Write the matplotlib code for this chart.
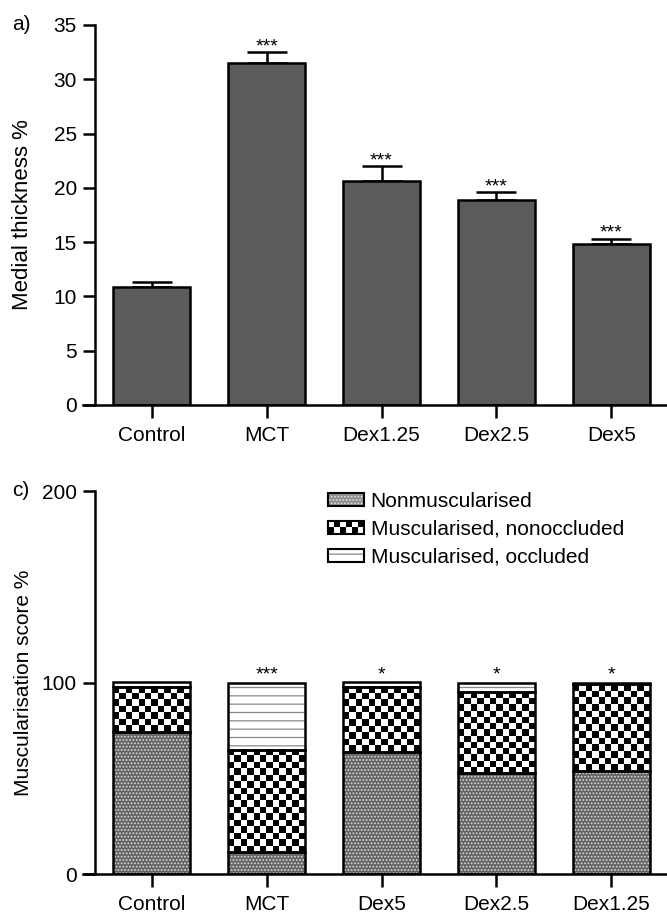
import numpy as np
import matplotlib
matplotlib.use('Agg')
import matplotlib.pyplot as plt
from matplotlib.patches import Patch, Rectangle
from matplotlib.legend_handler import HandlerBase

plt.rcParams['font.family'] = ['Liberation Sans', 'DejaVu Sans']
plt.rcParams['hatch.linewidth'] = 0.9

# panel a) medial thickness
groups_a = ['Control', 'MCT', 'Dex1.25', 'Dex2.5', 'Dex5']
thickness = [10.9, 31.5, 20.6, 18.9, 14.8]
thickness_err = [0.4, 1.0, 1.4, 0.7, 0.5]
stars_a = ['', '***', '***', '***', '***']

# panel c) muscularisation score
groups_c = ['Control', 'MCT', 'Dex5', 'Dex2.5', 'Dex1.25']
nonmusc = [74.0, 11.5, 63.5, 53.0, 54.0]
musc_nonocc = [23.5, 53.5, 34.0, 42.0, 45.0]
musc_occ = [2.5, 35.0, 2.5, 5.0, 1.0]
stars_c = ['', '***', '*', '*', '*']
legend_labels = ['Nonmuscularised', 'Muscularised, nonoccluded', 'Muscularised, occluded']

FS = 15
BAR_W = 0.67
XLIM = (-0.60, 4.486)
SPINE_X = -0.497


def style_axes(ax, labels, ylabel, ylabel_size):
    ax.set_xlim(*XLIM)
    ax.spines['top'].set_visible(False)
    ax.spines['right'].set_visible(False)
    ax.spines['left'].set_position(('data', SPINE_X))
    ax.spines['left'].set_linewidth(1.8)
    ax.spines['bottom'].set_linewidth(1.8)
    ax.set_xticks(range(len(labels)))
    ax.set_xticklabels(labels, fontsize=FS)
    ax.tick_params(axis='x', direction='out', length=9, width=1.8, pad=6)
    ax.tick_params(axis='y', direction='out', length=9, width=1.8, pad=4, labelsize=FS)
    ax.set_ylabel(ylabel, fontsize=ylabel_size)
    ax.yaxis.set_label_coords(-0.085, 0.5)


class CheckerHandle:
    pass


class CheckerHandler(HandlerBase):
    def create_artists(self, legend, orig_handle, xdescent, ydescent,
                       width, height, fontsize, trans):
        nx, ny = 6, 2
        cw, ch = width / nx, height / ny
        x0, y0 = -xdescent, -ydescent
        arts = [Rectangle((x0, y0), width, height, facecolor='white',
                          edgecolor='none', transform=trans)]
        for i in range(nx):
            for j in range(ny):
                if (i + j) % 2 == 0:
                    arts.append(Rectangle((x0 + i * cw, y0 + j * ch), cw, ch,
                                          facecolor='black', edgecolor='none',
                                          transform=trans))
        arts.append(Rectangle((x0, y0), width, height, fill=False,
                              edgecolor='black', linewidth=1.5, transform=trans))
        return arts


fig = plt.figure(figsize=(6.67, 9.13), dpi=100)
ax1 = fig.add_axes([83 / 667, 1 - 405 / 913, 1 - 83 / 667, (405 - 25) / 913])
ax2 = fig.add_axes([83 / 667, 1 - 874 / 913, 1 - 83 / 667, (874 - 491) / 913])

# ---- panel a
xa = np.arange(len(groups_a))
ax1.errorbar(xa, thickness, yerr=[np.zeros(len(xa)), thickness_err], fmt='none',
             ecolor='black', elinewidth=1.8, capsize=14.5, capthick=1.8, zorder=1)
ax1.bar(xa, thickness, width=BAR_W, color='#5b5b5b', edgecolor='black',
        linewidth=1.8, zorder=2)
for x, v, e, s in zip(xa, thickness, thickness_err, stars_a):
    if s:
        ax1.text(x, v + e + 0.1, s, ha='center', va='baseline', fontsize=14)
ax1.set_ylim(0, 35)
ax1.set_yticks(range(0, 36, 5))
style_axes(ax1, groups_a, 'Medial thickness %', 16)

# ---- panel c
xc = np.arange(len(groups_c))
nonmusc = np.array(nonmusc)
musc_nonocc = np.array(musc_nonocc)
musc_occ = np.array(musc_occ)
b2 = nonmusc
b3 = nonmusc + musc_nonocc

ax2.bar(xc, nonmusc, width=BAR_W, color='#626262', edgecolor='#d8d8d8',
        linewidth=0, hatch='.....', zorder=2)
ax2.bar(xc, musc_occ, bottom=b3, width=BAR_W, color='white', edgecolor='#8a8a8a',
        linewidth=0, hatch='--', zorder=2)

# checkerboard for muscularised, nonoccluded
px_per_unit = 383 / 200
cell_px = 77 / 12
for x, bot, h in zip(xc, b2, musc_nonocc):
    nrow = max(1, int(round(h * px_per_unit / cell_px)))
    grid = np.indices((nrow, 12)).sum(axis=0) % 2
    ax2.imshow(grid, cmap='gray', vmin=0, vmax=1, interpolation='nearest',
               aspect='auto', zorder=2,
               extent=(x - BAR_W / 2, x + BAR_W / 2, bot, bot + h))

for vals, bots in [(nonmusc, 0), (musc_nonocc, b2), (musc_occ, b3)]:
    ax2.bar(xc, vals, bottom=bots, width=BAR_W, fill=False, edgecolor='black',
            linewidth=1.8, zorder=3)

for x, s in zip(xc, stars_c):
    if s:
        ax2.text(x, 101.5, s, ha='center', va='baseline', fontsize=14)

ax2.set_ylim(0, 200)
ax2.set_yticks([0, 100, 200])
style_axes(ax2, groups_c, 'Muscularisation score %', 15)
ax2.set_xlim(*XLIM)

handles = [
    (Patch(facecolor='#8a8a8a', edgecolor='#e0e0e0', linewidth=0, hatch='.....'),
     Patch(fill=False, edgecolor='black', linewidth=1.5)),
    CheckerHandle(),
    (Patch(facecolor='white', edgecolor='#8a8a8a', linewidth=0, hatch='--'),
     Patch(fill=False, edgecolor='black', linewidth=1.5)),
]
ax2.legend(handles, legend_labels, handler_map={CheckerHandle: CheckerHandler()},
           loc='upper left', bbox_to_anchor=(328 / 667, 1 - 492 / 913),
           bbox_transform=fig.transFigure, frameon=False, fontsize=FS,
           handlelength=1.75, handleheight=0.6, handletextpad=0.3,
           labelspacing=0.42, borderpad=0, borderaxespad=0)

fig.text(12 / 667, 1 - 25 / 913, 'a)', fontsize=FS, ha='left', va='center')
fig.text(12 / 667, 1 - 491 / 913, 'c)', fontsize=FS, ha='left', va='center')

fig.savefig('out.png', dpi=100)
